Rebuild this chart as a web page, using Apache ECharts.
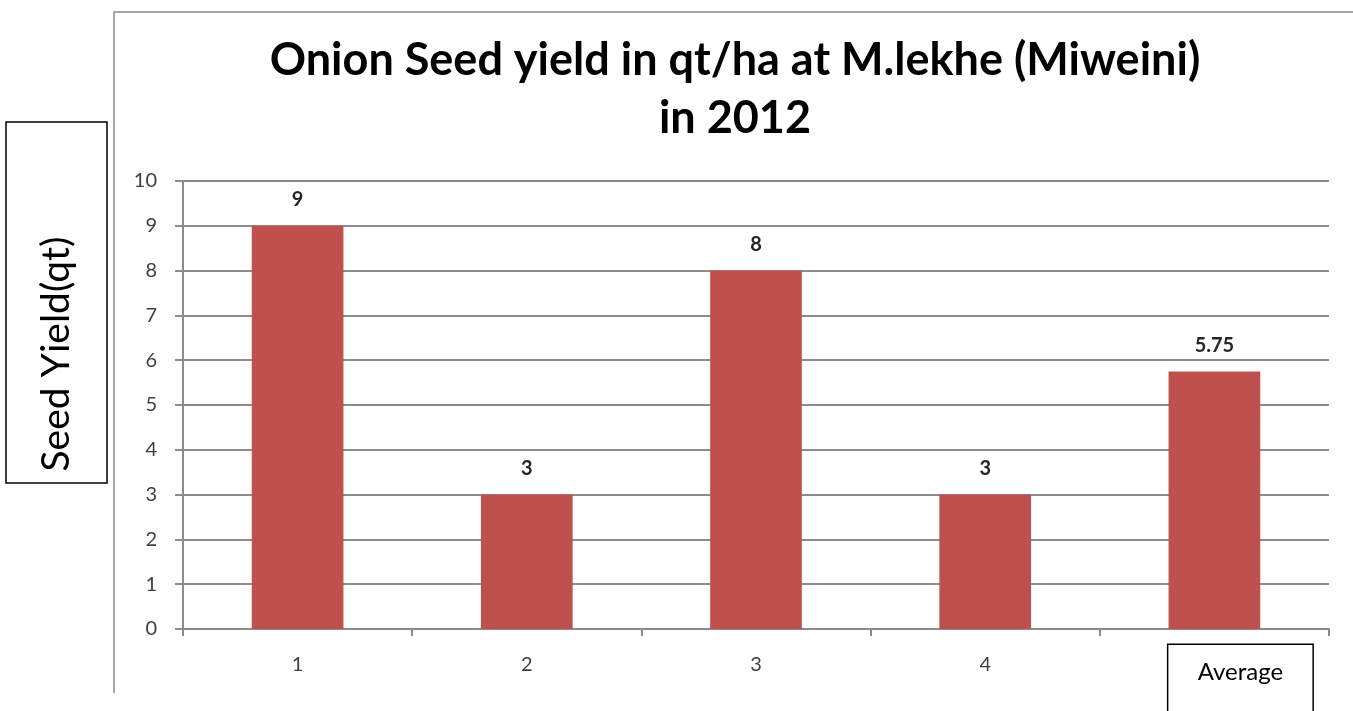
<!DOCTYPE html>
<html>
<head>
<meta charset="utf-8">
<title>Onion Seed yield</title>
<script src="https://cdn.jsdelivr.net/npm/echarts@6/dist/echarts.min.js"></script>
<style>
  html, body { margin: 0; padding: 0; background: #fff; }
  #main { width: 1353px; height: 711px; }
</style>
</head>
<body>
<div id="main"></div>
<script>
  // data
  const categories = ['1', '2', '3', '4', 'Average'];
  const seedYield = [9, 3, 8, 3, 5.75];
  const yMin = 0;
  const yMax = 10;
  const yStep = 1;

  const FONT = 'Lato';
  const gridColor = '#8c8c8c';

  const chart = echarts.init(document.getElementById('main'));

  const option = {
    backgroundColor: '#fff',
    animation: false,
    title: {
      text: 'Onion Seed yield in qt/ha at M.lekhe (Miweini)\nin 2012',
      left: 730,
      top: 26,
      textAlign: 'center',
      textStyle: {
        fontFamily: FONT,
        fontWeight: 'bold',
        fontSize: 45,
        lineHeight: 58,
        color: '#000'
      }
    },
    grid: {
      left: 183,
      right: 24,
      top: 181,
      bottom: 82,
      // the boxed "Average" label runs off the bottom edge, don't shrink the grid for it
      outerBoundsMode: 'none'
    },
    xAxis: {
      type: 'category',
      data: categories,
      axisLine: { lineStyle: { color: gridColor, width: 2 } },
      axisTick: { show: true, length: 7, lineStyle: { color: gridColor, width: 2 } },
      axisLabel: {
        interval: 0,
        margin: 16,
        fontFamily: FONT,
        fontSize: 20,
        color: '#404040',
        lineHeight: 40,
        formatter: function (v) {
          // the last label sits in a hand-drawn box, a little right of centre
          if (v === 'Average') return '{sp|}{box|Average}';
          return v;
        },
        rich: {
          sp: { width: 52, lineHeight: 76 },
          box: {
            fontFamily: FONT,
            fontSize: 24,
            lineHeight: 76,
            color: '#000',
            borderColor: '#000',
            borderWidth: 1.5,
            backgroundColor: '#fff',
            width: 98,
            align: 'center',
            padding: [15, 23, 37, 23]
          }
        }
      }
    },
    yAxis: {
      type: 'value',
      min: yMin,
      max: yMax,
      interval: yStep,
      axisLine: { show: true, lineStyle: { color: gridColor, width: 2 } },
      axisTick: { show: true, length: 8, lineStyle: { color: gridColor, width: 2 } },
      splitLine: { lineStyle: { color: gridColor, width: 2 } },
      axisLabel: {
        margin: 26,
        fontFamily: FONT,
        fontSize: 20,
        color: '#404040'
      }
    },
    series: [
      {
        type: 'bar',
        data: seedYield,
        barWidth: '40%',
        itemStyle: { color: '#c0504d' },
        label: {
          show: true,
          position: 'top',
          distance: 16,
          fontFamily: FONT,
          fontWeight: 'bold',
          fontSize: 20,
          color: '#262626'
        }
      }
    ],
    graphic: [
      // chart frame
      {
        type: 'polyline',
        shape: { points: [[114, 693], [114, 12], [1360, 12]] },
        style: { stroke: '#a6a6a6', lineWidth: 2, fill: null },
        z: -1
      },
      // y axis title box
      {
        type: 'rect',
        shape: { x: 6, y: 122, width: 101, height: 361 },
        style: { fill: '#fff', stroke: '#000', lineWidth: 1.5 }
      },
      {
        type: 'text',
        x: 56,
        y: 354,
        rotation: Math.PI / 2,
        style: {
          text: 'Seed Yield(qt)',
          fontFamily: FONT,
          fontSize: 39,
          fill: '#000',
          textAlign: 'center',
          textVerticalAlign: 'middle'
        }
      }
    ]
  };

  chart.setOption(option);
</script>
</body>
</html>
